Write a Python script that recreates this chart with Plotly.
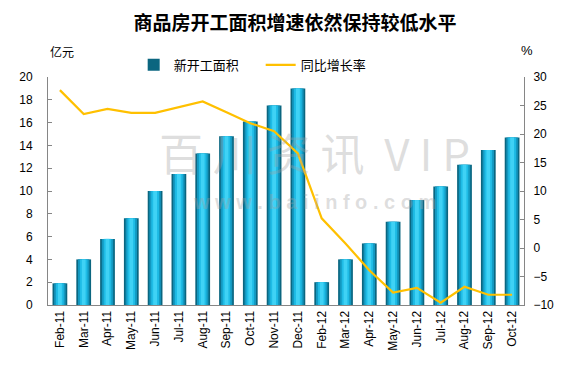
import plotly.graph_objects as go

months = ["Feb-11", "Mar-11", "Apr-11", "May-11", "Jun-11", "Jul-11", "Aug-11", "Sep-11",
          "Oct-11", "Nov-11", "Dec-11", "Feb-12", "Mar-12", "Apr-12", "May-12", "Jun-12",
          "Jul-12", "Aug-12", "Sep-12", "Oct-12"]
new_area = [1.9, 4.0, 5.8, 7.6, 10.0, 11.5, 13.3, 14.8, 16.1, 17.5, 19.0,
            2.0, 4.0, 5.4, 7.3, 9.2, 10.4, 12.3, 13.6, 14.7]
yoy_growth = [27.7, 23.5, 24.4, 23.7, 23.7, 24.7, 25.7, 23.8, 21.9, 20.5, 16.6,
              5.2, 0.8, -3.9, -7.8, -7.0, -9.6, -6.8, -8.2, -8.2]

bar_name = "新开工面积"
line_name = "同比增长率"
title_text = "商品房开工面积增速依然保持较低水平"

FONT = "Liberation Sans, Arial, sans-serif"
CJK = "Noto Sans CJK SC, sans-serif"

fig = go.Figure()

# cylinder-like bars: layered overlays
fig.add_trace(go.Bar(x=months, y=new_area, name=bar_name, width=0.62,
                     marker=dict(color="#0B6680", line=dict(width=0)), showlegend=True))
fig.add_trace(go.Bar(x=months, y=new_area, width=0.48, hoverinfo="skip",
                     marker=dict(color="#1398C0", line=dict(width=0)), showlegend=False))
fig.add_trace(go.Bar(x=months, y=new_area, width=0.32, hoverinfo="skip",
                     marker=dict(color="#1FBCE6", line=dict(width=0)), showlegend=False))
fig.add_trace(go.Bar(x=months, y=new_area, width=0.16, hoverinfo="skip",
                     marker=dict(color="#3FD2F5", line=dict(width=0)), showlegend=False))

fig.add_trace(go.Scatter(x=months, y=yoy_growth, name=line_name, yaxis="y2", mode="lines",
                         line=dict(color="#FFC000", width=2.2)))

fig.update_layout(
    width=575, height=369,
    margin=dict(l=40, r=59, t=69, b=72, autoexpand=False),
    paper_bgcolor="white", plot_bgcolor="white",
    barmode="overlay",
    font=dict(family=FONT, size=12, color="black"),
    title=dict(text="<b>" + title_text + "</b>", x=0.499, xanchor="center", y=0.959,
               yanchor="middle", yref="container",
               font=dict(family=CJK, size=19, color="black")),
    xaxis=dict(type="category", tickangle=-90, showline=True, linecolor="#868686", linewidth=1,
               ticks="", showgrid=False, tickfont=dict(family=FONT, size=12), automargin=False),
    yaxis=dict(range=[0, 20], dtick=2, showline=True, linecolor="#868686", linewidth=1,
               ticks="inside", ticklen=4, tickcolor="#868686", showgrid=False, zeroline=False,
               tickfont=dict(family=FONT, size=12), automargin=False, ticklabelstandoff=12),
    yaxis2=dict(range=[-10, 30], dtick=5, overlaying="y", side="right", showline=True,
                linecolor="#868686", linewidth=1, ticks="inside", ticklen=4, tickcolor="#868686",
                showgrid=False, zeroline=False, tickfont=dict(family=FONT, size=12),
                automargin=False, ticklabelstandoff=6),
    legend=dict(orientation="h", x=0.18, y=1.053, xanchor="left", yanchor="middle",
                font=dict(family=CJK, size=13), bgcolor="rgba(0,0,0,0)", itemwidth=30,
                entrywidth=82, traceorder="normal"),
)

fig.add_annotation(text="亿元", xref="paper", yref="paper", x=0.0, y=1.11, xanchor="left",
                   yanchor="middle", showarrow=False, font=dict(family=CJK, size=12, color="black"))
fig.add_annotation(text="%", xref="paper", yref="paper", x=1.006, y=1.115, xanchor="center",
                   yanchor="middle", showarrow=False, font=dict(family=FONT, size=13, color="black"))
# watermark
fig.add_annotation(text="百 川 资 讯  V I P", xref="paper", yref="paper", x=0.56, y=0.67,
                   xanchor="center", yanchor="middle",
                   showarrow=False, font=dict(family=CJK, size=44, color="rgba(160,160,160,0.35)"))
fig.add_annotation(text="<b>w w w . b a i i n f o . c o m</b>", xref="paper", yref="paper",
                   x=0.56, y=0.45, xanchor="center", yanchor="middle", showarrow=False,
                   font=dict(family=FONT, size=20, color="rgba(160,160,160,0.35)"))

fig.write_html("out.html")
